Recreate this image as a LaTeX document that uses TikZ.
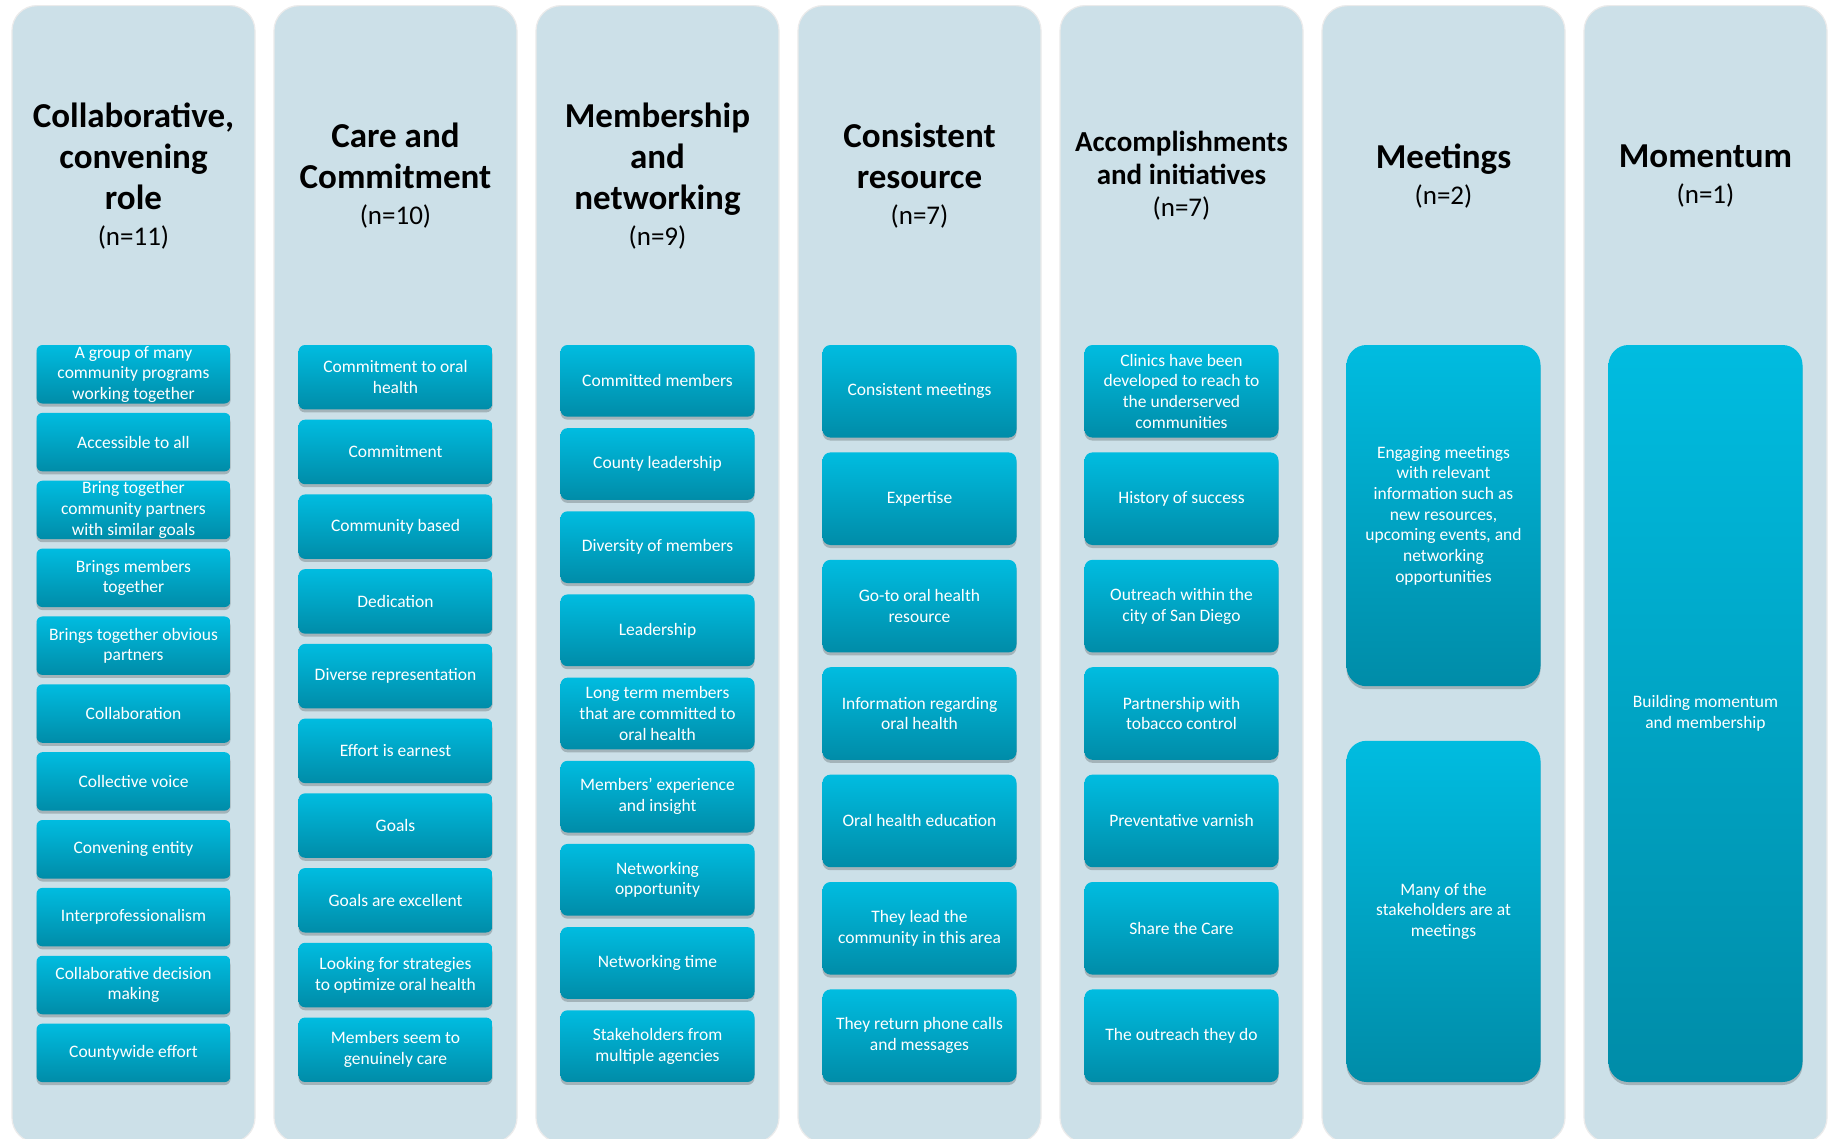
\documentclass[tikz,border=0pt]{standalone}
\usepackage{fontspec}
\setmainfont{Carlito}
\usetikzlibrary{shadows}
\definecolor{colbg}{RGB}{204,224,232}
\definecolor{boxtop}{RGB}{0,188,224}
\definecolor{boxbot}{RGB}{0,140,168}
\newcommand{\ncount}[1]{{\mdseries\fontsize{27}{30}\selectfont#1}}

\begin{document}
\begin{tikzpicture}[x=1pt,y=-1pt,
	col/.style={fill=colbg,draw=black!8,line width=1.2pt,rounded corners=25pt,minimum width=243,minimum height=1137,anchor=north,inner sep=0pt},
	head/.style={align=center,font=\bfseries\fontsize{35}{41}\selectfont},
	item/.style={rounded corners=6pt,top color=boxtop,bottom color=boxbot,text=white,align=center,minimum width=194,inner xsep=2pt,inner ysep=0pt,font=\fontsize{17.5}{20.7}\selectfont,drop shadow={shadow xshift=0pt,shadow yshift=-3pt,opacity=.2,fill=black}}]
	\clip(0,0)rectangle(1834,1138);
	\fill[white](0,0)rectangle(1834,1138);
	\foreach \i in{1,...,7}
	\node[col](c\i)at({133.5+262*(\i-1)},5){};
	\node[head](h1)at(133.5,176){Collaborative,\\convening\\role\\[-5pt]\ncount{(n=11)}};
	\node[head](h2)at(395.5,176){Care and\\Commitment\\[-5pt]\ncount{(n=10)}};
	\node[head](h3)at(657.5,176){Membership\\and\\networking\\[-5pt]\ncount{(n=9)}};
	\node[head](h4)at(919.5,176){Consistent\\resource\\[-5pt]\ncount{(n=7)}};
	\node[head,font=\bfseries\fontsize{29}{33}\selectfont](h5)at(1181.5,176){Accomplishments\\and initiatives\\[-1pt]\ncount{(n=7)}};
	\node[head](h6)at(1443.5,176){Meetings\\[-5pt]\ncount{(n=2)}};
	\node[head](h7)at(1705.5,176){Momentum\\[-5pt]\ncount{(n=1)}};
	\def\bh{58.5}
	\foreach \t[count=\k]in{A group of many\\community programs\\working together,Accessible to all,Bring together\\community partners\\with similar goals,Brings members\\together,Brings together obvious\\partners,Collaboration,Collective voice,Convening entity,Interprofessionalism,Collaborative decision\\making,Countywide effort}
	\node[item,minimum height=\bh](a\k)at(133.5,{345+\bh/2+1.16*\bh*(\k-1)}){\t};
	\def\bh{64.42}
	\foreach \t[count=\k]in{Commitment to oral\\health,Commitment,Community based,Dedication,Diverse representation,Effort is earnest,Goals,Goals are excellent,Looking for strategies\\to optimize oral health,Members seem to\\genuinely care}
	\node[item,rounded corners=6.5pt,minimum height=\bh](b\k)at(395.5,{345+\bh/2+1.16*\bh*(\k-1)}){\t};
	\def\bh{71.69}
	\foreach \t[count=\k]in{Committed members,County leadership,Diversity of members,Leadership,Long term members\\that are committed to\\oral health,Members' experience\\and insight,Networking\\opportunity,Networking time,Stakeholders from\\multiple agencies}
	\node[item,rounded corners=7pt,minimum height=\bh](m\k)at(657.5,{345+\bh/2+1.16*\bh*(\k-1)}){\t};
	\def\bh{92.59}
	\foreach \t[count=\k]in{Consistent meetings,Expertise,Go-to oral health\\resource,Information regarding\\oral health,Oral health education,They lead the\\community in this area,They return phone calls\\and messages}
	\node[item,rounded corners=8pt,minimum height=\bh](r\k)at(919.5,{345+\bh/2+1.16*\bh*(\k-1)}){\t};
	\foreach \t[count=\k]in{Clinics have been\\developed to reach to\\the underserved\\communities,History of success,Outreach within the\\city of San Diego,Partnership with\\tobacco control,Preventative varnish,Share the Care,The outreach they do}
	\node[item,rounded corners=8pt,minimum height=\bh](p\k)at(1181.5,{345+\bh/2+1.16*\bh*(\k-1)}){\t};
	\def\bh{341.2}
	\foreach \t[count=\k]in{{Engaging meetings\\with relevant\\information such as\\new resources,\\upcoming events, and\\networking\\opportunities},Many of the\\stakeholders are at\\meetings}
	\node[item,rounded corners=20pt,minimum height=\bh](g\k)at(1443.5,{345+\bh/2+1.16*\bh*(\k-1)}){\t};
	\node[item,rounded corners=20pt,minimum height=737](n1)at(1705.5,713.5){Building momentum\\and membership};
\end{tikzpicture}
\end{document}
